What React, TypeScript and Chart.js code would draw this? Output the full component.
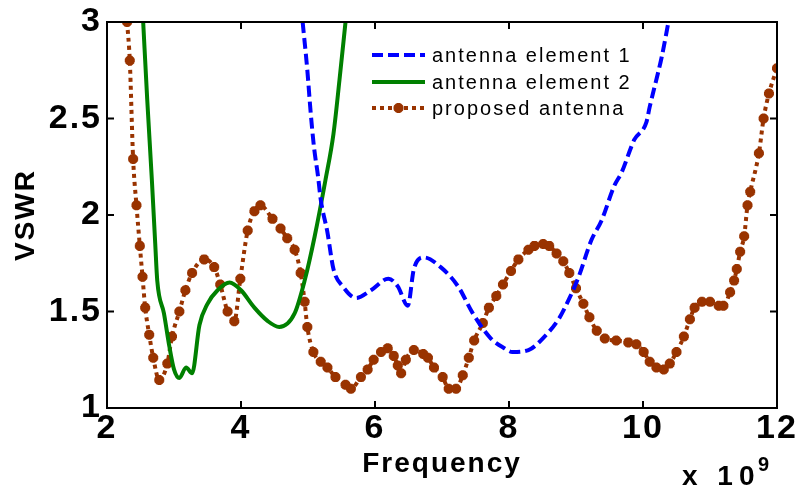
import React, { useEffect, useRef } from 'react';
import { Chart, registerables } from 'chart.js';

Chart.register(...registerables);

// ---- data (frequency in GHz, axis shows ×10^9) ----
const element1Freq = [4.92, 4.99, 5.04, 5.09, 5.15, 5.19, 5.29, 5.38, 5.52, 5.72, 5.94, 6.2, 6.34, 6.49, 6.58, 6.73, 6.98, 7.24, 7.46, 7.73, 7.93, 8.05, 8.29, 8.53, 8.74, 8.89, 9.04, 9.23, 9.38, 9.57, 9.68, 9.87, 10.05, 10.1, 10.17, 10.28, 10.38];
const element1Vswr = [3.0, 2.75, 2.53, 2.35, 2.2, 2.08, 1.91, 1.72, 1.63, 1.57, 1.61, 1.67, 1.63, 1.53, 1.72, 1.78, 1.73, 1.63, 1.49, 1.36, 1.31, 1.29, 1.3, 1.37, 1.46, 1.56, 1.68, 1.87, 1.97, 2.15, 2.22, 2.39, 2.48, 2.56, 2.66, 2.82, 3.0];

const element2Freq = [2.54, 2.6, 2.67, 2.72, 2.75, 2.85, 2.93, 3.0, 3.08, 3.18, 3.27, 3.38, 3.5, 3.65, 3.83, 4.0, 4.2, 4.4, 4.57, 4.8, 4.95, 5.1, 5.26, 5.38, 5.47, 5.56];
const element2Vswr = [3.0, 2.6, 2.18, 1.85, 1.66, 1.49, 1.32, 1.2, 1.155, 1.21, 1.18, 1.43, 1.54, 1.61, 1.65, 1.61, 1.52, 1.45, 1.42, 1.49, 1.66, 1.89, 2.18, 2.42, 2.7, 3.0];

const proposedFreq = [2.3, 2.34, 2.39, 2.44, 2.49, 2.53, 2.57, 2.63, 2.69, 2.78, 2.9, 2.97, 3.08, 3.17, 3.27, 3.45, 3.6, 3.69, 3.8, 3.9, 3.99, 4.1, 4.2, 4.29, 4.47, 4.59, 4.69, 4.8, 4.89, 4.95, 4.99, 5.08, 5.19, 5.29, 5.41, 5.56, 5.64, 5.79, 5.89, 5.98, 6.09, 6.19, 6.28, 6.34, 6.39, 6.46, 6.58, 6.72, 6.79, 6.88, 7.01, 7.1, 7.21, 7.31, 7.4, 7.48, 7.61, 7.7, 7.81, 7.91, 8.03, 8.14, 8.29, 8.38, 8.51, 8.6, 8.71, 8.81, 8.9, 9.0, 9.11, 9.2, 9.31, 9.43, 9.6, 9.78, 9.9, 10.01, 10.1, 10.2, 10.31, 10.4, 10.5, 10.61, 10.7, 10.77, 10.88, 11.0, 11.13, 11.2, 11.3, 11.36, 11.4, 11.45, 11.51, 11.56, 11.6, 11.73, 11.8, 11.88, 12.0];
const proposedVswr = [3.0, 2.8, 2.29, 2.05, 1.84, 1.68, 1.52, 1.38, 1.26, 1.145, 1.23, 1.37, 1.5, 1.61, 1.7, 1.77, 1.73, 1.64, 1.5, 1.45, 1.67, 1.92, 2.02, 2.05, 1.98, 1.93, 1.88, 1.82, 1.7, 1.55, 1.42, 1.29, 1.24, 1.21, 1.16, 1.12, 1.1, 1.16, 1.2, 1.25, 1.29, 1.31, 1.27, 1.22, 1.18, 1.25, 1.3, 1.28, 1.26, 1.21, 1.16, 1.1, 1.1, 1.17, 1.26, 1.35, 1.44, 1.52, 1.58, 1.64, 1.71, 1.77, 1.82, 1.84, 1.85, 1.84, 1.8, 1.76, 1.7, 1.62, 1.54, 1.47, 1.4, 1.36, 1.35, 1.34, 1.33, 1.29, 1.24, 1.21, 1.2, 1.23, 1.29, 1.37, 1.46, 1.52, 1.55, 1.55, 1.53, 1.53, 1.6, 1.66, 1.72, 1.81, 1.89, 2.05, 2.12, 2.32, 2.5, 2.63, 2.76];

const xTickValues = [2, 4, 6, 8, 10, 12];
const yTickValues = [1, 1.5, 2, 2.5, 3];
const seriesLabels = ['antenna element 1', 'antenna element 2', 'proposed antenna'];
const xTitle = 'Frequency';
const yTitle = 'VSWR';
const xMultiplier = 'x 10';
const xExponent = '9';

const FONT = "'Liberation Sans', Arial, Helvetica, sans-serif";

function toPoints(xs: number[], ys: number[]) {
  return xs.map((x, i) => ({ x, y: ys[i] }));
}

function drawStar(ctx: CanvasRenderingContext2D, x: number, y: number, r: number) {
  ctx.beginPath();
  for (let k = 0; k < 4; k++) {
    const a = (k * Math.PI) / 4;
    ctx.moveTo(x - Math.cos(a) * r, y - Math.sin(a) * r);
    ctx.lineTo(x + Math.cos(a) * r, y + Math.sin(a) * r);
  }
  ctx.stroke();
}

const framePlugin = {
  id: 'matlabFrame',
  beforeDraw(chart: any) {
    (chart.ctx as any).letterSpacing = '2px';
  },
  afterDraw(chart: any) {
    const { ctx, chartArea: a, scales } = chart;
    ctx.save();
    ctx.setLineDash([]);
    ctx.strokeStyle = '#000';
    ctx.lineWidth = 2;
    ctx.strokeRect(a.left, a.top, a.right - a.left, a.bottom - a.top);
    ctx.beginPath();
    for (const v of xTickValues) {
      const px = scales.x.getPixelForValue(v);
      ctx.moveTo(px, a.bottom);
      ctx.lineTo(px, a.bottom - 7);
      ctx.moveTo(px, a.top);
      ctx.lineTo(px, a.top + 7);
    }
    for (const v of yTickValues) {
      const py = scales.y.getPixelForValue(v);
      ctx.moveTo(a.left, py);
      ctx.lineTo(a.left + 7, py);
      ctx.moveTo(a.right, py);
      ctx.lineTo(a.right - 7, py);
    }
    ctx.stroke();

    // legend (inside plot, top right, no box)
    const lx0 = a.left + 265;
    const lx1 = a.left + 318;
    const tx = a.left + 325;
    const rowY = [a.top + 33, a.top + 60, a.top + 86];
    chart.data.datasets.forEach((ds: any, i: number) => {
      const y = rowY[i];
      ctx.save();
      ctx.strokeStyle = ds.borderColor;
      ctx.lineWidth = ds.borderWidth;
      ctx.setLineDash(ds.borderDash || []);
      ctx.beginPath();
      ctx.moveTo(lx0, y);
      ctx.lineTo(lx1, y);
      ctx.stroke();
      if (ds.pointRadius > 0) {
        ctx.setLineDash([]);
        ctx.lineWidth = ds.pointBorderWidth;
        drawStar(ctx, (lx0 + lx1) / 2, y, ds.pointRadius);
      }
      ctx.restore();
      ctx.fillStyle = '#000';
      ctx.font = `20px ${FONT}`;
      (ctx as any).letterSpacing = '2px';
      ctx.textAlign = 'left';
      ctx.textBaseline = 'middle';
      ctx.fillText(ds.label, tx, y + 1);
    });

    // x 10^9 multiplier
    ctx.fillStyle = '#000';
    ctx.textBaseline = 'alphabetic';
    ctx.textAlign = 'left';
    ctx.font = `bold 28px ${FONT}`;
    (ctx as any).letterSpacing = '6px';
    ctx.fillText(xMultiplier, a.left + 575, a.bottom + 77);
    ctx.font = `bold 20px ${FONT}`;
    (ctx as any).letterSpacing = '0px';
    ctx.fillText(xExponent, a.left + 651, a.bottom + 63);
    ctx.restore();
  },
};

export default function App() {
  const canvasRef = useRef<HTMLCanvasElement | null>(null);

  useEffect(() => {
    const canvas = canvasRef.current;
    if (!canvas) return;
    const chart = new Chart(canvas, {
      type: 'line',
      data: {
        datasets: [
          {
            label: seriesLabels[0],
            data: toPoints(element1Freq, element1Vswr),
            borderColor: '#0000ff',
            backgroundColor: '#0000ff',
            borderWidth: 4,
            borderDash: [11, 5],
            pointRadius: 0,
            cubicInterpolationMode: 'monotone',
            fill: false,
          },
          {
            label: seriesLabels[1],
            data: toPoints(element2Freq, element2Vswr),
            borderColor: '#008000',
            backgroundColor: '#008000',
            borderWidth: 4,
            pointRadius: 0,
            cubicInterpolationMode: 'monotone',
            fill: false,
          },
          {
            label: seriesLabels[2],
            data: toPoints(proposedFreq, proposedVswr),
            borderColor: '#993300',
            backgroundColor: '#993300',
            borderWidth: 4,
            borderDash: [4, 4],
            pointStyle: 'star',
            pointRadius: 5,
            pointBorderWidth: 3.5,
            pointBorderColor: '#993300',
            pointBackgroundColor: '#993300',
            cubicInterpolationMode: 'monotone',
            fill: false,
          },
        ],
      },
      options: {
        responsive: false,
        animation: false,
        layout: { padding: { top: 22, right: 24, bottom: 0, left: 0 } },
        plugins: {
          legend: { display: false },
          tooltip: { enabled: false },
        },
        scales: {
          x: {
            type: 'linear',
            min: 2,
            max: 12,
            afterBuildTicks: (scale: any) => {
              scale.ticks = xTickValues.map((v) => ({ value: v }));
            },
            afterFit: (scale: any) => {
              scale.height = 93;
            },
            grid: { display: false, drawTicks: false },
            border: { display: false },
            ticks: {
              autoSkip: false,
              maxRotation: 0,
              padding: 4,
              color: '#000',
              font: { family: FONT, size: 34, weight: 'bold', lineHeight: 1 },
              callback: (v: any) => String(v),
            },
            title: {
              display: true,
              text: xTitle,
              color: '#000',
              font: { family: FONT, size: 28, weight: 'bold', lineHeight: 1.2 },
              padding: { top: 0, bottom: 20 },
            },
          },
          y: {
            type: 'linear',
            min: 1,
            max: 3,
            afterBuildTicks: (scale: any) => {
              scale.ticks = yTickValues.map((v) => ({ value: v }));
            },
            afterFit: (scale: any) => {
              scale.width = 107;
            },
            grid: { display: false, drawTicks: false },
            border: { display: false },
            ticks: {
              autoSkip: false,
              padding: 5,
              color: '#000',
              font: { family: FONT, size: 34, weight: 'bold', lineHeight: 1 },
              callback: (v: any) => String(v),
            },
            title: {
              display: true,
              text: yTitle,
              color: '#000',
              font: { family: FONT, size: 28, weight: 'bold', lineHeight: 1.2 },
              padding: { top: 9, bottom: 0 },
            },
          },
        },
      },
      plugins: [framePlugin],
    } as any);
    return () => chart.destroy();
  }, []);

  return (
    <div style={{ position: 'absolute', left: 0, top: 0, width: 801, height: 501, background: '#fff' }}>
      <canvas ref={canvasRef} width={801} height={501} style={{ display: 'block' }} />
    </div>
  );
}
